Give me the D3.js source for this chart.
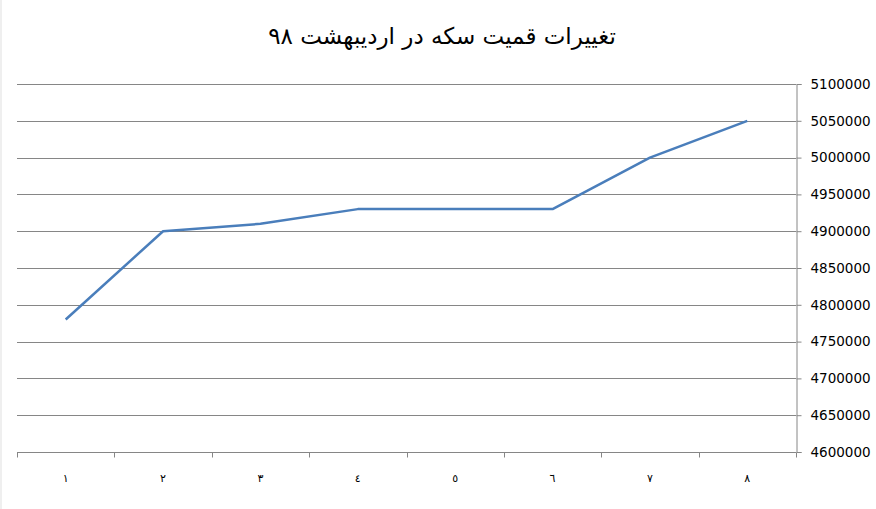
<!DOCTYPE html>
<html><head><meta charset="utf-8">
<script src="https://cdn.jsdelivr.net/npm/d3@7"></script>
<style>body{margin:0;background:#fff}svg{display:block}</style>
</head><body>
<svg id="c" width="876" height="509"></svg>
<script>
const title = "تغییرات قمیت سکه در اردیبهشت ۹۸";
const categories = ["١","٢","٣","٤","٥","٦","٧","٨"];
const values = [4780000, 4900000, 4910000, 4930000, 4930000, 4930000, 5000000, 5050000];
const yTicks = [4600000,4650000,4700000,4750000,4800000,4850000,4900000,4950000,5000000,5050000,5100000];

const svg = d3.select("#c");
const L = 17, R = 796, T = 84, B = 452;
svg.append("rect").attr("x",0).attr("y",0).attr("width",2).attr("height",509).attr("fill","#efefef");

const x = d3.scaleBand().domain(categories).range([L, R]);
const y = d3.scaleLinear().domain([4600000, 5100000]).range([B, T]);

// gridlines
svg.append("g").selectAll("line").data(yTicks.filter(v=>v>4600000)).join("line")
  .attr("x1",L).attr("x2",R).attr("y1",d=>Math.round(y(d))+0.5).attr("y2",d=>Math.round(y(d))+0.5)
  .attr("stroke","#868686").attr("stroke-width",1);

// right axis
const ya = svg.append("g").attr("transform",`translate(${R+0.5},0)`)
  .call(d3.axisRight(y).tickValues(yTicks).tickSize(5).tickPadding(9).tickFormat(d3.format("d")));
ya.select(".domain").attr("stroke","#868686");
ya.selectAll(".tick line").attr("stroke","#868686");
ya.selectAll("text").attr("font-family","DejaVu Sans, Verdana, sans-serif").attr("font-size","13.5px").attr("fill","#000");

// bottom axis
const xa = svg.append("g").attr("transform",`translate(0,${B+0.5})`)
  .call(d3.axisBottom(x).tickSize(0).tickPadding(22));
xa.select(".domain").attr("stroke","#868686").attr("d",`M${L},0H${R}`);
xa.selectAll("text").attr("font-family","DejaVu Sans, sans-serif").attr("font-size","11px").attr("fill","#000");
const bounds = categories.map(c=>x(c)).concat([R]);
xa.append("g").selectAll("line").data(bounds).join("line")
  .attr("x1",d=>Math.round(d)+0.5).attr("x2",d=>Math.round(d)+0.5).attr("y1",0).attr("y2",5)
  .attr("stroke","#868686");

// line
const line = d3.line().x((d,i)=>x(categories[i])+x.bandwidth()/2).y(d=>y(d));
svg.append("path").datum(values).attr("d",line).attr("fill","none")
  .attr("stroke","#4a7ebb").attr("stroke-width",2.5).attr("stroke-linejoin","round");

svg.append("text").attr("x",442).attr("y",44).attr("text-anchor","middle").attr("direction","rtl")
  .attr("font-family","DejaVu Sans, Noto Sans, sans-serif").attr("font-size","23px").attr("fill","#000").text(title);
</script>
</body></html>
